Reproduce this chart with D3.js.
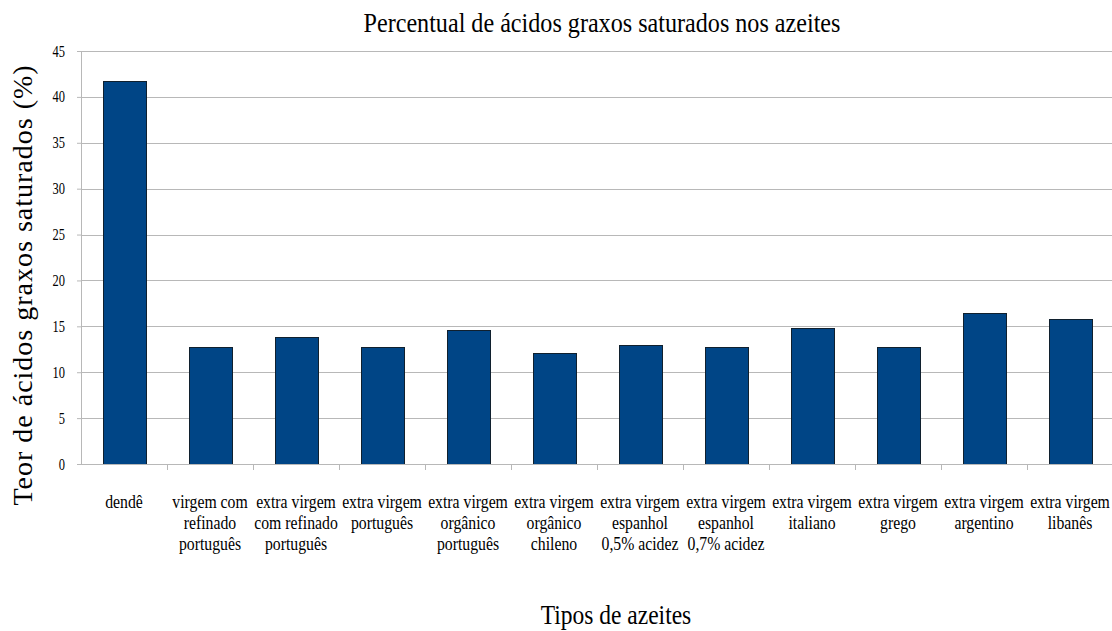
<!DOCTYPE html>
<html>
<head>
<meta charset="utf-8">
<script src="https://cdn.jsdelivr.net/npm/d3@7"></script>
<style>
  html, body { margin: 0; padding: 0; background: #fff; }
  svg { display: block; }
</style>
</head>
<body>
<script>
// Chart data
const categories = [
  ["dendê"],
  ["virgem com", "refinado", "português"],
  ["extra virgem", "com refinado", "português"],
  ["extra virgem", "português"],
  ["extra virgem", "orgânico", "português"],
  ["extra virgem", "orgânico", "chileno"],
  ["extra virgem", "espanhol", "0,5% acidez"],
  ["extra virgem", "espanhol", "0,7% acidez"],
  ["extra virgem", "italiano"],
  ["extra virgem", "grego"],
  ["extra virgem", "argentino"],
  ["extra virgem", "libanês"]
];
const values = [41.7, 12.8, 13.8, 12.8, 14.6, 12.1, 13.0, 12.8, 14.8, 12.8, 16.4, 15.8];
const yTicks = [0, 5, 10, 15, 20, 25, 30, 35, 40, 45];

const FONT = "'Liberation Serif', 'Times New Roman', 'DejaVu Serif', serif";
const W = 1112, H = 631;
const margin = { left: 81, right: -1, top: 51, bottom: 167 };
const plotL = margin.left, plotR = W - margin.right, plotT = margin.top, plotB = H - margin.bottom;

const svg = d3.select("body").append("svg").attr("width", W).attr("height", H)
  .attr("font-family", FONT);

const x = d3.scaleBand().domain(d3.range(categories.length)).range([plotL, plotR]).paddingInner(0.5).paddingOuter(0.25);
const xEdges = d3.scaleLinear().domain([0, categories.length]).range([plotL, plotR]);
const y = d3.scaleLinear().domain([0, 45]).range([plotB, plotT]);

const grid = "#b8b8b8";

// Horizontal gridlines
svg.append("g").selectAll("line").data(yTicks.filter(d => d > 0)).join("line")
  .attr("x1", plotL).attr("x2", plotR)
  .attr("y1", d => Math.round(y(d)) + 0.5).attr("y2", d => Math.round(y(d)) + 0.5)
  .attr("stroke", grid).attr("stroke-width", 1);

// Horizontally condensed text
function label(parent, tx, ty, str, size, sx, anchor) {
  const g = parent.append("g").attr("transform", `translate(${tx},${ty}) scale(${sx},1)`);
  return g.append("text").attr("text-anchor", anchor || "middle")
    .attr("font-family", FONT).attr("fill", "#000")
    .attr("font-size", size).text(str);
}

// Y axis
const yAxis = svg.append("g").attr("transform", `translate(${plotL},0)`)
  .call(d3.axisLeft(y).tickValues(yTicks).tickSize(4).tickPadding(0).tickFormat(d3.format("d")));
yAxis.attr("font-family", FONT);
yAxis.select(".domain").attr("stroke", grid);
yAxis.selectAll(".tick line").attr("stroke", grid);
yAxis.selectAll(".tick text").remove();
yAxis.selectAll(".tick").each(function (d) {
  label(d3.select(this), -16, 5, String(d), 16, 0.78, "end");
});

// Bars
svg.append("g").selectAll("rect").data(values).join("rect")
  .attr("x", (d, i) => Math.round(x(i)) + 0.5)
  .attr("y", d => Math.round(y(d)) + 0.5)
  .attr("width", x.bandwidth())
  .attr("height", d => Math.round(y(0)) - Math.round(y(d)))
  .attr("fill", "#004586")
  .attr("stroke", "#10202e")
  .attr("stroke-width", 1);

// X axis line and category separators
svg.append("line").attr("x1", plotL).attr("x2", plotR)
  .attr("y1", Math.round(plotB) + 0.5).attr("y2", Math.round(plotB) + 0.5)
  .attr("stroke", grid);
svg.append("g").selectAll("line").data(d3.range(1, categories.length + 1)).join("line")
  .attr("x1", d => Math.round(xEdges(d)) + 0.5).attr("x2", d => Math.round(xEdges(d)) + 0.5)
  .attr("y1", plotB).attr("y2", plotB + 6)
  .attr("stroke", grid);

// Category labels
categories.forEach((lines, i) => {
  const cx = x(i) + x.bandwidth() / 2;
  lines.forEach((ln, k) => {
    label(svg, cx, 508 + k * 21, ln, 19, 0.83, "middle");
  });
});

// Titles
label(svg, 602, 32, "Percentual de ácidos graxos saturados nos azeites", 28, 0.862, "middle");
label(svg, 616, 624, "Tipos de azeites", 27, 0.87, "middle");

svg.append("text")
  .attr("transform", "translate(32,285) rotate(-90)")
  .attr("text-anchor", "middle")
  .attr("font-family", FONT)
  .attr("font-size", 28)
  .attr("letter-spacing", 1)
  .attr("fill", "#000")
  .text("Teor de ácidos graxos saturados (%)");
</script>
</body>
</html>
